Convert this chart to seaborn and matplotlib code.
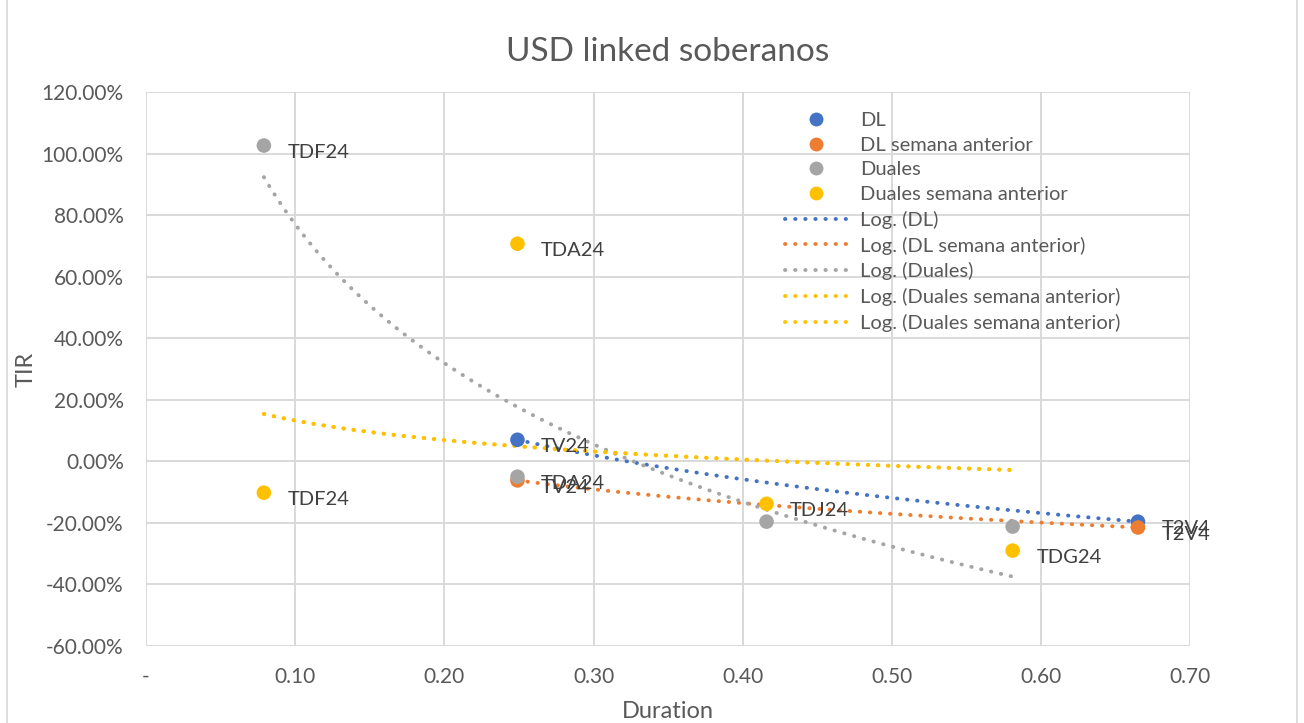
import matplotlib
matplotlib.use("Agg")
import matplotlib.pyplot as plt
import matplotlib.ticker as mticker
from matplotlib.lines import Line2D
from matplotlib.patches import Rectangle
import seaborn as sns
import pandas as pd

# Bond data: duration (years) and TIR (%)
dl_duration = [0.249, 0.665]
dl_tir = [7.0, -19.6]
dl_names = ["TV24", "T2V4"]

dl_prev_duration = [0.249, 0.665]
dl_prev_tir = [-6.2, -21.5]
dl_prev_names = ["TV24", "T2V4"]

duales_duration = [0.079, 0.249, 0.416, 0.581]
duales_tir = [102.6, -5.0, -19.6, -21.2]
duales_names = ["TDF24", "TDA24", "", ""]

duales_prev_duration = [0.079, 0.249, 0.416, 0.581]
duales_prev_tir = [-10.2, 70.7, -13.8, -29.0]
duales_prev_names = ["TDF24", "TDA24", "TDJ24", "TDG24"]

series_names = ["DL", "DL semana anterior", "Duales", "Duales semana anterior"]
x_ticks = [0.0, 0.1, 0.2, 0.3, 0.4, 0.5, 0.6, 0.7]
y_ticks = [-60, -40, -20, 0, 20, 40, 60, 80, 100, 120]

colors = ["#4472C4", "#ED7D31", "#A5A5A5", "#FFC000"]
text_color = "#595959"
grid_color = "#D9D9D9"

sns.set_theme(style="white")
plt.rcParams["font.family"] = ["Lato", "DejaVu Sans"]

fig = plt.figure(figsize=(13.04, 7.23), dpi=100)
ax = fig.add_axes([0.112, 0.1065, 0.8007, 0.7663])

series = [
    (dl_duration, dl_tir, dl_names),
    (dl_prev_duration, dl_prev_tir, dl_prev_names),
    (duales_duration, duales_tir, duales_names),
    (duales_prev_duration, duales_prev_tir, duales_prev_names),
]

dotted = dict(ls=(0, (0.1, 2.5)), lw=2.8, dash_capstyle="round")

# Logarithmic trend lines (y ~ log(x)); the last series carries two
trend_handles = []
trend_labels = []
for (xs, ys, _), name, c in zip(series, series_names, colors):
    df = pd.DataFrame({"Duration": xs, "TIR": ys})
    reps = 2 if name == "Duales semana anterior" else 1
    for _ in range(reps):
        sns.regplot(data=df, x="Duration", y="TIR", logx=True, ci=None,
                    scatter=False, color=c, line_kws=dotted, ax=ax)
        trend_handles.append(Line2D([], [], color=c, **dotted))
        trend_labels.append(f"Log. ({name})")

# Scatter points and bond labels
point_handles = []
for (xs, ys, names), name, c in zip(series, series_names, colors):
    df = pd.DataFrame({"Duration": xs, "TIR": ys})
    sns.scatterplot(data=df, x="Duration", y="TIR", color=c, s=110,
                    edgecolor="none", ax=ax, zorder=5, legend=False)
    point_handles.append(Line2D([], [], ls="none", marker="o", markersize=10,
                                markerfacecolor=c, markeredgecolor="none"))
    for x, y, label in zip(xs, ys, names):
        if label:
            ax.annotate(label, (x, y), xytext=(17, -5), textcoords="offset points",
                        ha="left", va="center", fontsize=14.5, color="#404040",
                        zorder=6)

ax.set_xlim(0, 0.7)
ax.set_ylim(-60, 120)
ax.set_xticks(x_ticks)
ax.set_yticks(y_ticks)
ax.xaxis.set_major_formatter(mticker.FuncFormatter(
    lambda v, _: "-" if abs(v) < 1e-9 else f"{v:.2f}"))
ax.yaxis.set_major_formatter(mticker.FuncFormatter(lambda v, _: f"{v:.2f}%"))
ax.tick_params(axis="both", length=0, labelsize=15, labelcolor=text_color)
ax.tick_params(axis="x", pad=15)
ax.tick_params(axis="y", pad=16)
ax.grid(True, color=grid_color, lw=1.4)
ax.set_axisbelow(True)
for sp in ax.spines.values():
    sp.set_visible(False)

ax.set_xlabel("Duration", fontsize=17, color=text_color, labelpad=10)
ax.set_ylabel("TIR", fontsize=17, color=text_color, labelpad=4)
ax.set_title("USD linked soberanos", fontsize=24, color=text_color, pad=22)

leg = ax.legend(point_handles + trend_handles, series_names + trend_labels,
                loc="upper left", bbox_to_anchor=(0.595, 0.997), frameon=False,
                fontsize=14.5, labelspacing=0.38, handlelength=3.0,
                handletextpad=0.7, labelcolor=text_color)

# Chart area border
fig.patches.append(Rectangle((0.005, -0.01), 0.99, 1.02, transform=fig.transFigure,
                             fill=False, ec=grid_color, lw=1.2))

fig.savefig("out.png", dpi=100)
